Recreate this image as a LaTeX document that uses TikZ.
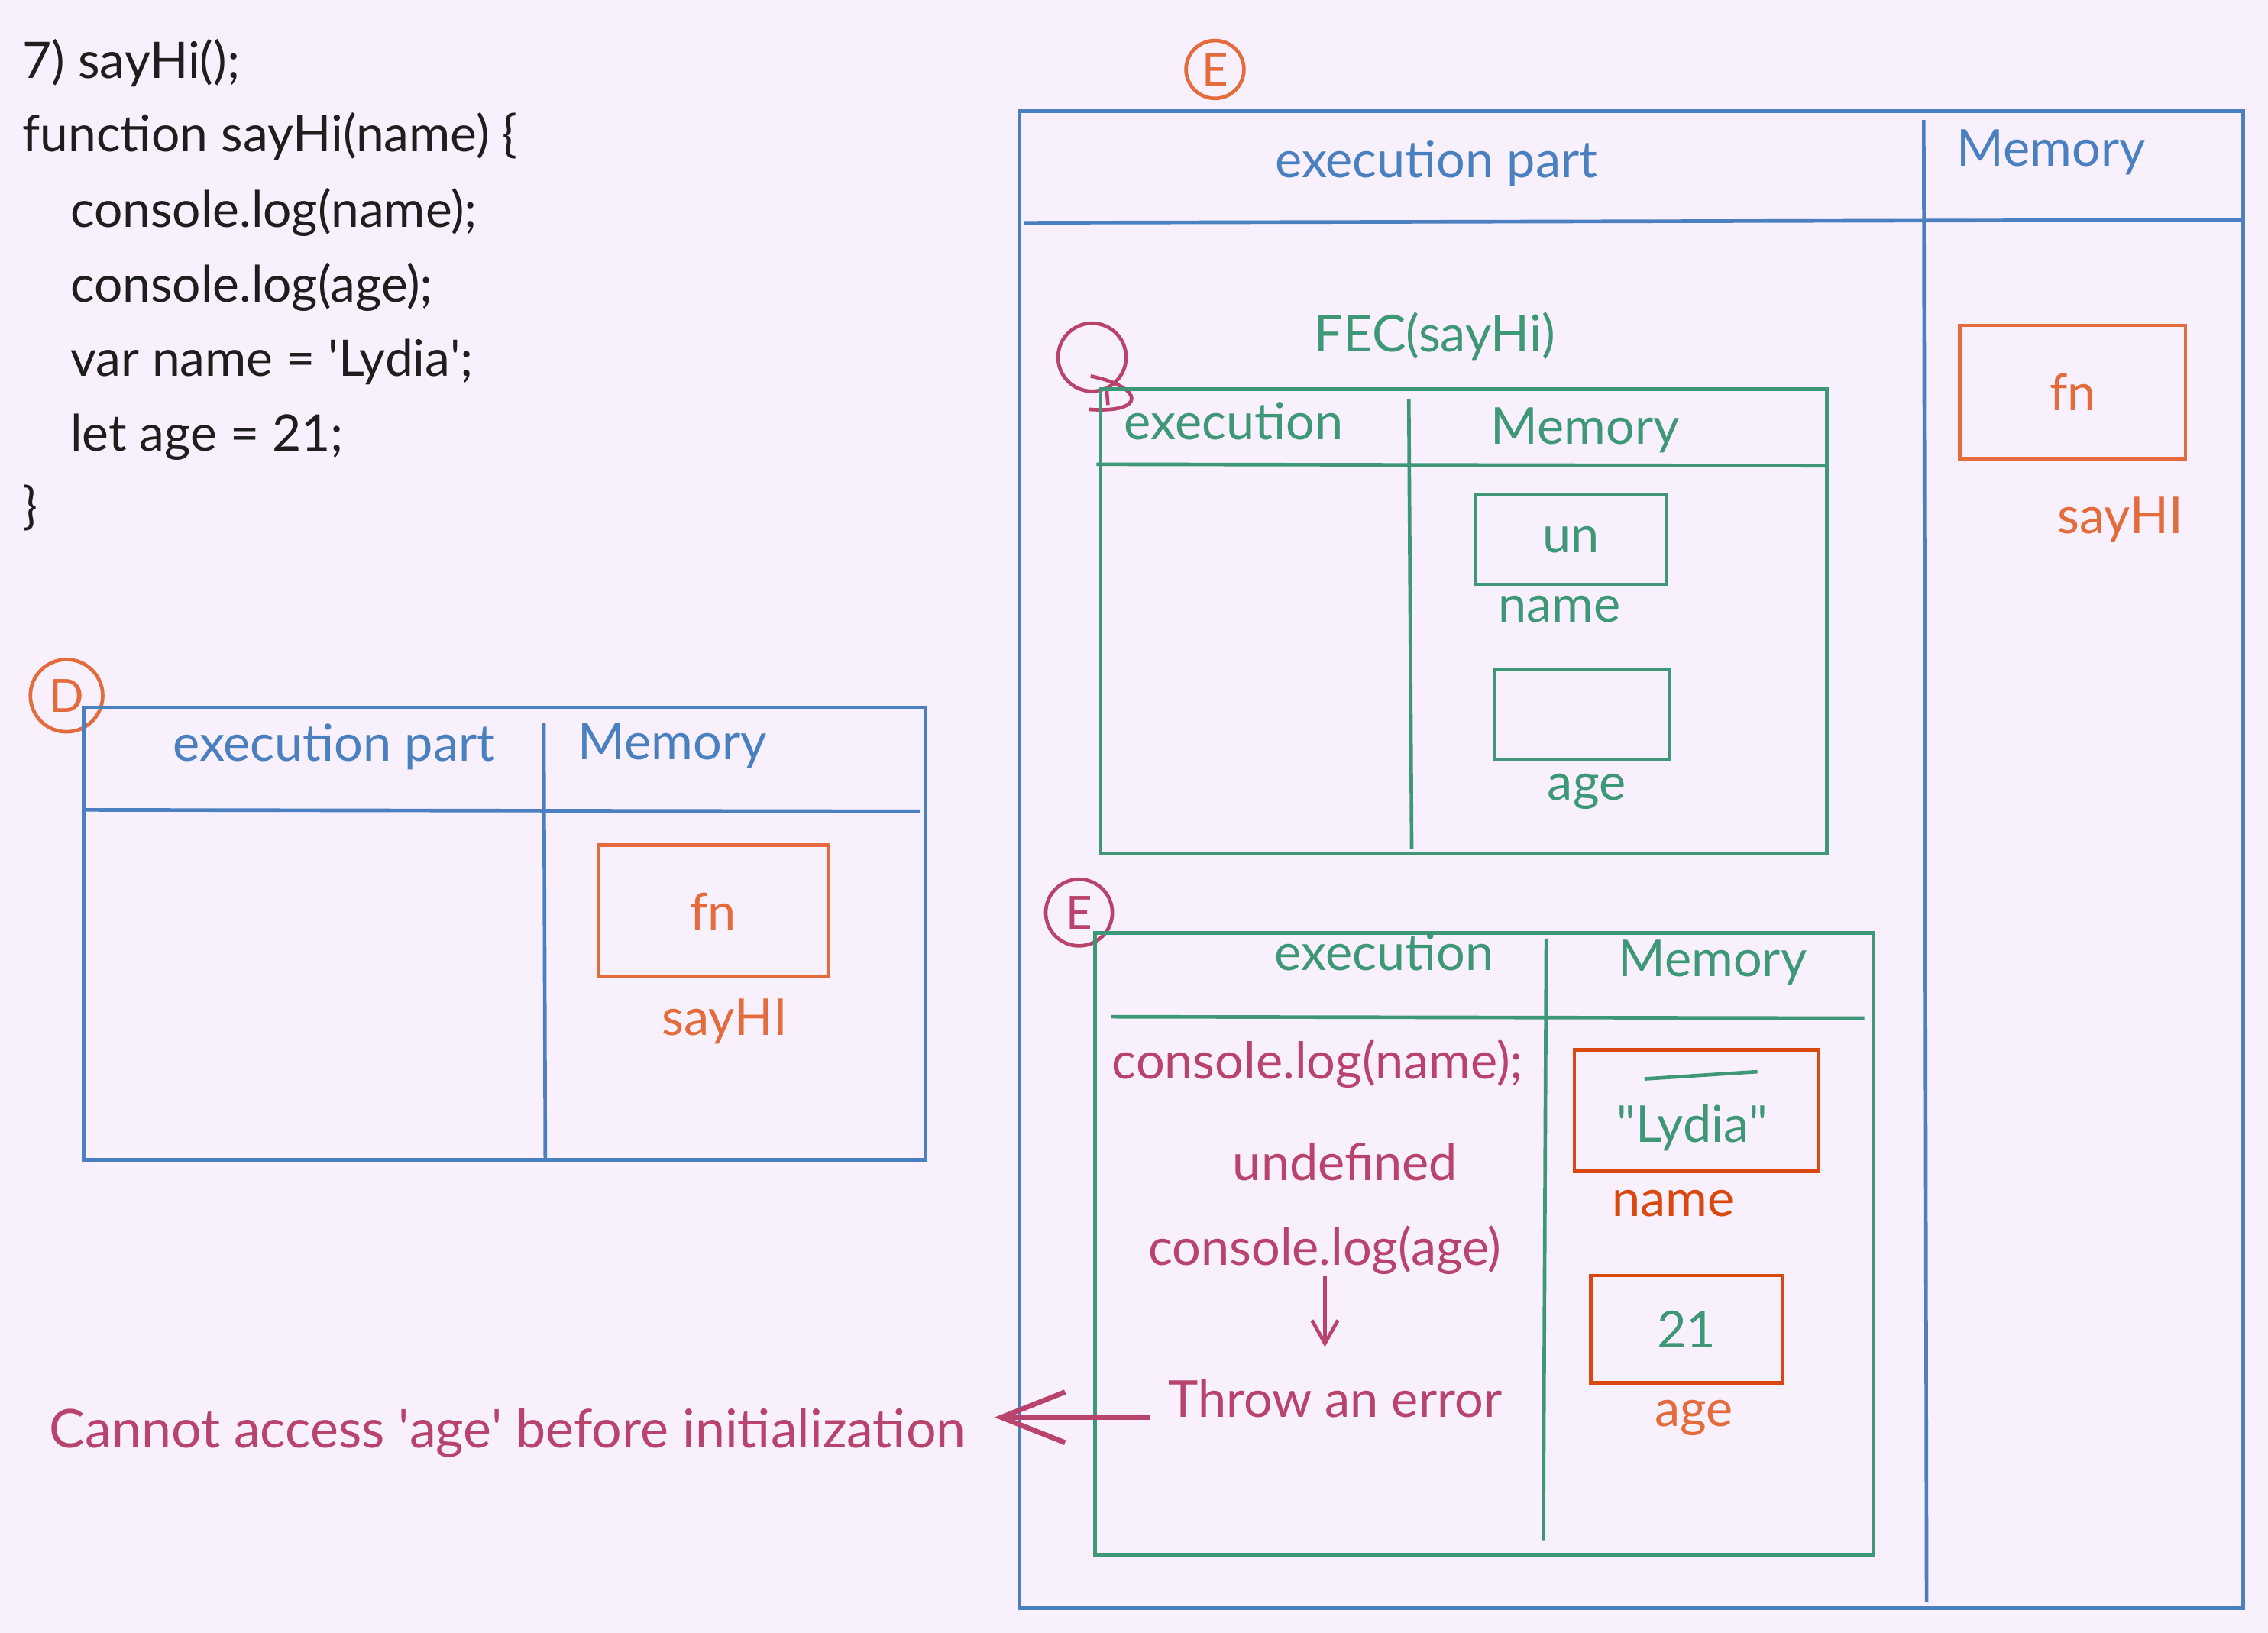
\documentclass[tikz,border=0pt]{standalone}
\usepackage{fontspec}
\setmainfont{Lato}
\usetikzlibrary{arrows.meta,positioning}
\definecolor{bgc}{HTML}{F8F0FC}
\definecolor{ink}{HTML}{1E1E1E}
\definecolor{blu}{HTML}{4A80C0}
\definecolor{grn}{HTML}{3E9878}
\definecolor{mag}{HTML}{B8446E}
\definecolor{org}{HTML}{E36B3C}
\definecolor{rst}{HTML}{D9480F}
\tikzset{
    code/.style={
    anchor=base west,text=ink,inner sep=0pt,font=\fontsize{9.9}{12}\selectfont
    },
    lbl/.style={
    anchor=base,inner sep=0pt,font=\fontsize{10}{12}\selectfont
    },
    frame/.style={
    draw=#1,line width=0.7pt
    },
    cell/.style={
    rectangle,draw=#1,line width=0.7pt,inner sep=0pt
    },
    tag/.style={
    circle,draw=#1,text=#1,line width=0.7pt,inner sep=0pt,font=\fontsize{9}{10}\selectfont
    },
}

\begin{document}
\begin{tikzpicture}[x=0.01cm, y=-0.01cm]
   \fill[bgc] (0,0) rectangle (1568,1129);

   \node[code] (c1) at (15,54) {7) sayHi();};
   \node[code] (c2) at (15,105) {function sayHi(name) \{};
   \node[code] (c3) at (48,157) {console.log(name);};
   \node[code] (c4) at (48,209) {console.log(age);};
   \node[code] (c5) at (48,260) {var name = \textquotesingle Lydia\textquotesingle;};
   \node[code] (c6) at (48,312) {let age = 21;};
   \node[code] (c7) at (15,362) {\}};

   \node[tag=org,minimum size=0.5cm] (tD) at (46,481) {D};
   \draw[frame=blu] (58,489) rectangle (640,802);
   \draw[frame=blu] (58,560) -- (636,561);
   \draw[frame=blu] (376,500) -- (377,802);
   \node[lbl,text=blu] (exD) at (231,526) {execution part};
   \node[lbl,text=blu] (memD) at (465,525) {Memory};
   \node[cell=org,minimum width=1.59cm,minimum height=0.91cm,text=org,font=\fontsize{10}{12}\selectfont] (fnD) at (493,630) {fn};
   \node[lbl,text=org] (hiD) at (501,716) {sayHI};

   \node[tag=org,minimum size=0.4cm] (tE) at (840,48) {E};
   \draw[frame=blu] (705,77) rectangle (1551,1112);
   \draw[frame=blu] (708,154) -- (1550,152);
   \draw[frame=blu] (1330,83) -- (1332,1108);
   \node[lbl,text=blu] (exE) at (993,123) {execution part};
   \node[lbl,text=blu] (memE) at (1418,115) {Memory};
   \node[cell=org,minimum width=1.56cm,minimum height=0.92cm,text=org,font=\fontsize{10}{12}\selectfont] (fnE) at (1433,271) {fn};
   \node[lbl,text=org] (hiE) at (1466,369) {sayHI};

   \node[lbl,text=grn] (fec) at (992,243) {FEC(sayHi)};
   \node[tag=mag,minimum size=0.47cm] (tF) at (755,247) {};
   \draw[mag,line width=0.7pt] (754,260) .. controls (792,268) and (792,286) .. (753,283);
   \draw[mag,line width=0.7pt] (765,268) -- (766,280);
   \draw[frame=grn] (761,269) rectangle (1263,590);
   \draw[frame=grn] (758,321) -- (1263,322);
   \draw[frame=grn] (974,276) -- (976,587);
   \node[lbl,text=grn] (exF) at (853,304) {execution};
   \node[lbl,text=grn] (memF) at (1096,307) {Memory};
   \node[cell=grn,minimum width=1.32cm,minimum height=0.62cm,text=grn,font=\fontsize{10}{12}\selectfont] (unF) at (1086,373) {un};
   \node[lbl,text=grn] (nmF) at (1078,430) {name};
   \node[cell=grn,minimum width=1.21cm,minimum height=0.62cm] (agF) at (1094,494) {};
   \node[lbl,text=grn] (agFl) at (1097,553) {age};

   \node[tag=mag,minimum size=0.46cm] (tG) at (746,631) {E};
   \draw[frame=grn] (757,645) rectangle (1295,1075);
   \draw[frame=grn] (768,703) -- (1289,704);
   \draw[frame=grn] (1069,649) -- (1067,1065);
   \node[lbl,text=grn] (exG) at (957,671) {execution};
   \node[lbl,text=grn] (memG) at (1184,675) {Memory};

   \node[lbl,text=mag] (logname) at (911,746) {console.log(name);};
   \node[lbl,text=mag] (undef) at (930,816) {undefined};
   \node[lbl,text=mag] (logage) at (916,875) {console.log(age)};
   \node[lbl,text=mag] (throw) at (923,980) {Throw an error};
   \node[lbl,text=mag,font=\fontsize{10.5}{12}\selectfont] (cannot) at (351,1001) {Cannot access \textquotesingle age\textquotesingle\ before initialization};

   \draw[mag,line width=0.7pt,-{Straight Barb[length=1.6mm,width=1.8mm]},shorten >=0.22cm]
     (logage.south) -- (logage.south |- throw.north);
   \draw[mag,line width=1pt,-{Straight Barb[length=4.4mm,width=3.5mm]},shorten <=0.12cm,shorten >=0.19cm]
     (throw.base west) -- (throw.base west -| cannot.east);

   \node[cell=rst,minimum width=1.69cm,minimum height=0.84cm] (nmG) at (1173,768) {};
   \draw[grn,line width=0.7pt] (1137,746) -- (1215,741);
   \node[lbl,text=grn] (lydia) at (1170,790) {\textquotedbl Lydia\textquotedbl};
   \node[lbl,text=rst] (nmGl) at (1157,841) {name};
   \node[cell=rst,minimum width=1.32cm,minimum height=0.74cm,text=grn,font=\fontsize{10}{12}\selectfont] (agG) at (1166,919) {21};
   \node[lbl,text=org] (agGl) at (1171,986) {age};
\end{tikzpicture}
\end{document}
